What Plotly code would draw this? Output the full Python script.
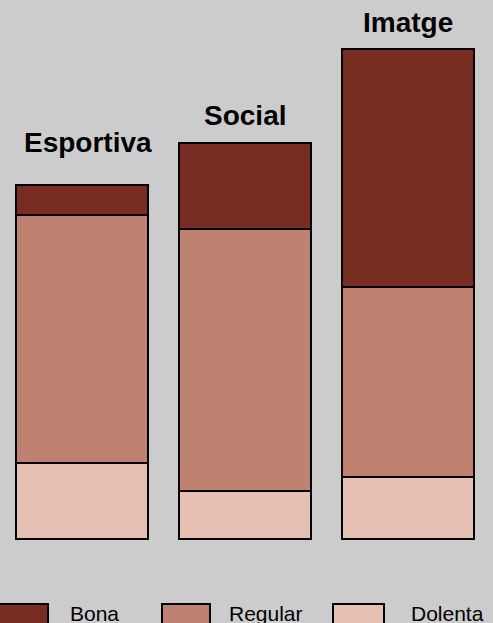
import plotly.graph_objects as go

# ---- data ----
categories = ["Esportiva", "Social", "Imatge"]
series_names = ["Bona", "Regular", "Dolenta"]
bona = [30, 86, 238]
regular = [248, 262, 190]
dolenta = [76, 48, 62]

# ---- styles ----
colors = {"Bona": "#772D22", "Regular": "#C08270", "Dolenta": "#E6C0B2"}
bg = "#CCCCCC"
W, H = 493, 623
font_family = "Arial, Liberation Sans, sans-serif"
label_yshift = [25, 10, 9]
label_xshift = [6, 0, 0]

values = {"Bona": bona, "Regular": regular, "Dolenta": dolenta}

fig = go.Figure()
for name in ["Dolenta", "Regular", "Bona"]:
    fig.add_trace(go.Bar(
        x=categories, y=values[name], name=name,
        width=0.81,
        marker=dict(color=colors[name], line=dict(color="black", width=2)),
        showlegend=False, hoverinfo="x+y+name",
    ))

totals = [b + r + d for b, r, d in zip(bona, regular, dolenta)]
for i, (cat, tot) in enumerate(zip(categories, totals)):
    fig.add_annotation(
        x=cat, y=tot, text="<b>%s</b>" % cat, showarrow=False,
        xref="x", yref="y", yanchor="bottom", xanchor="center",
        yshift=label_yshift[i], xshift=label_xshift[i],
        font=dict(family=font_family, size=28, color="black"),
    )

# legend drawn as swatches + labels along the bottom
swatch_x = [(-2, 48), (162, 210), (333, 384)]
text_x = [68, 227, 409]
for name, (x0, x1), tx in zip(series_names, swatch_x, text_x):
    fig.add_shape(
        type="rect", xref="paper", yref="paper",
        x0=x0 / W, x1=x1 / W, y0=1 - 604 / H, y1=1 - 640 / H,
        fillcolor=colors[name], line=dict(color="black", width=2),
        layer="above",
    )
    fig.add_annotation(
        x=tx / W, y=1 - 613 / H, xref="paper", yref="paper",
        text=name, showarrow=False, xanchor="left", yanchor="middle",
        font=dict(family=font_family, size=21, color="black"),
    )

fig.update_layout(
    width=W, height=H,
    margin=dict(l=0, r=0, t=0, b=0),
    paper_bgcolor=bg, plot_bgcolor=bg,
    barmode="stack", bargap=0,
    xaxis=dict(visible=False, range=[-0.5031, 2.5215], type="category"),
    yaxis=dict(visible=False, range=[-84, 539]),
    showlegend=False,
)

fig.write_html(
    "out.html",
    config={"displayModeBar": False},
    post_script="document.body.style.margin='0';document.body.style.overflow='hidden';",
)
